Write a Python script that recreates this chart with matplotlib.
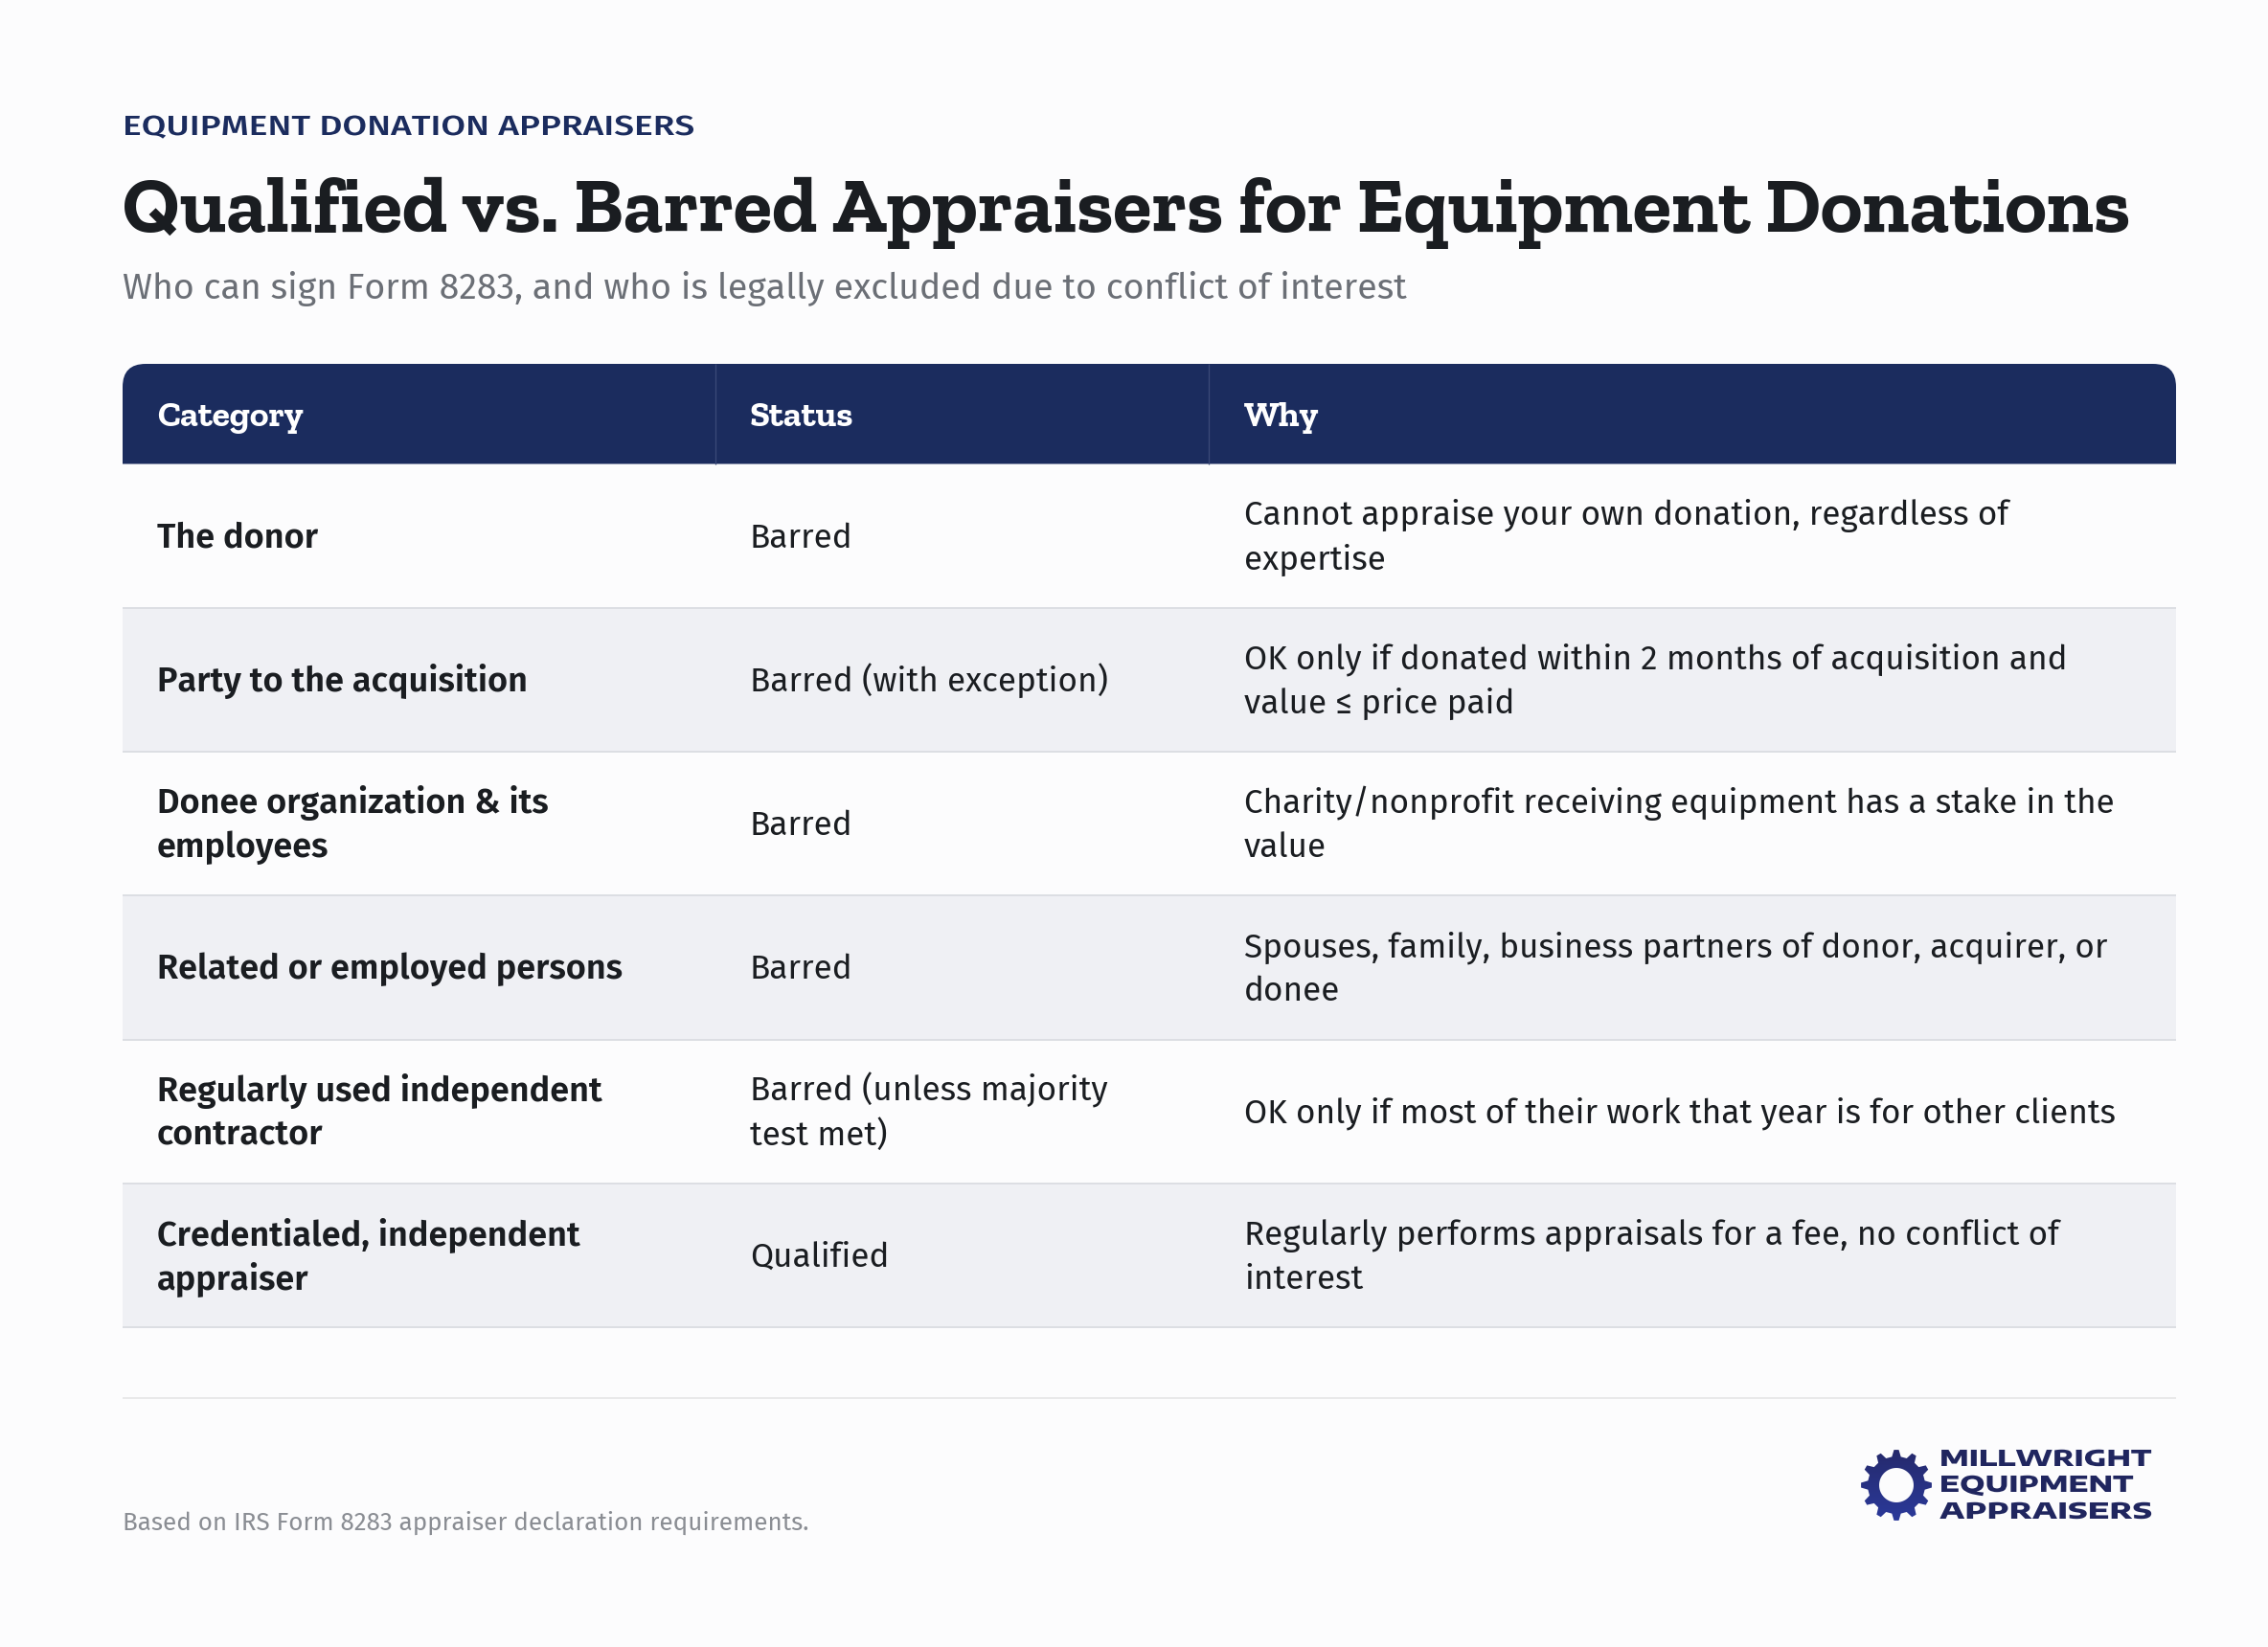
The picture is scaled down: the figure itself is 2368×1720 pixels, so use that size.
import numpy as np
import matplotlib
matplotlib.use("Agg")
import matplotlib.pyplot as plt
from matplotlib.path import Path
from matplotlib.patches import PathPatch, Rectangle
from matplotlib.patheffects import AbstractPathEffect
from matplotlib.transforms import Affine2D

W, H = 2368, 1720
BG = "#fcfcfd"; NAVY = "#1b2c5e"; INK = "#1a1d21"; ALT = "#eff0f4"; LINE = "#dcdee3"

eyebrow = "EQUIPMENT DONATION APPRAISERS"
title = "Qualified vs. Barred Appraisers for Equipment Donations"
subtitle = "Who can sign Form 8283, and who is legally excluded due to conflict of interest"
headers = ["Category", "Status", "Why"]
categories = [["The donor"], ["Party to the acquisition"], ["Donee organization & its", "employees"],
              ["Related or employed persons"], ["Regularly used independent", "contractor"],
              ["Credentialed, independent", "appraiser"]]
statuses = [["Barred"], ["Barred (with exception)"], ["Barred"], ["Barred"],
            ["Barred (unless majority", "test met)"], ["Qualified"]]
whys = [["Cannot appraise your own donation, regardless of", "expertise"],
        ["OK only if donated within 2 months of acquisition and", "value ≤ price paid"],
        ["Charity/nonprofit receiving equipment has a stake in the", "value"],
        ["Spouses, family, business partners of donor, acquirer, or", "donee"],
        ["OK only if most of their work that year is for other clients"],
        ["Regularly performs appraisals for a fee, no conflict of", "interest"]]
footnote = "Based on IRS Form 8283 appraiser declaration requirements."
logo_lines = ["MILLWRIGHT", "EQUIPMENT", "APPRAISERS"]

fig = plt.figure(figsize=(W / 100, H / 100), dpi=100, facecolor=BG)
ax = fig.add_axes([0, 0, 1, 1])
ax.set_xlim(0, W); ax.set_ylim(H, 0); ax.axis("off")
renderer = fig.canvas.get_renderer()

SANS = ["Fira Sans", "DejaVu Sans"]
SLAB = ["Zilla Slab", "DejaVu Serif"]


class XStretch(AbstractPathEffect):
    """Widen a text about its left edge, keeping it a text."""
    def __init__(self, sx, x0):
        super().__init__()
        self.sx, self.x0 = sx, x0

    def draw_path(self, renderer, gc, tpath, affine, rgbFace=None):
        a = affine + Affine2D().translate(-self.x0, 0).scale(self.sx, 1).translate(self.x0, 0)
        renderer.draw_path(gc, tpath, a, rgbFace)


def width(s, size, **kw):
    t = ax.text(0, 0, s, fontsize=size, **kw)
    w = t.get_window_extent(renderer).width
    t.remove()
    return w

def fit(s, target, **kw):
    return 20 * target / width(s, 20, **kw)

def put(x, y, s, **kw):
    return ax.text(x, y, s, ha="left", va="baseline", **kw)

def put_stretched(x, y, s, size_px, target, **kw):
    size = size_px * 0.72
    sx = target / width(s, size, **kw)
    t = put(x, y, s, fontsize=size, **kw)
    t.set_path_effects([XStretch(sx, x)])
    return t

# heading
kw = dict(family=SANS, weight=500)
put_stretched(128, 141, eyebrow, 29, 597, color=NAVY, **kw)
kw = dict(family=SLAB, weight=700)
put(128, 242, title, color=INK, fontsize=fit(title, 2094, **kw), **kw)
kw = dict(family=SANS, weight=400)
put(128, 312, subtitle, color="#6b6f76", fontsize=fit(subtitle, 1344, **kw), **kw)

# table geometry
X0, X1 = 128, 2272
col_x = [128, 747, 1262, 2272]
text_x = [164, 783, 1299]
head_top, head_bot = 380, 484.5
row_edges = [484.5, 634.5, 785, 935, 1085.5, 1236, 1386]

r = 24
hp = Path([(X0, head_bot), (X0, head_top + r), (X0, head_top), (X0 + r, head_top),
           (X1 - r, head_top), (X1, head_top), (X1, head_top + r), (X1, head_bot), (X0, head_bot)],
          [Path.MOVETO, Path.LINETO, Path.CURVE3, Path.CURVE3, Path.LINETO, Path.CURVE3, Path.CURVE3,
           Path.LINETO, Path.CLOSEPOLY])
ax.add_patch(PathPatch(hp, fc=NAVY, ec="none"))
for x in col_x[1:3]:
    ax.plot([x, x], [head_top, head_bot], color="#3b4a78", lw=0.9, solid_capstyle="butt")

kw = dict(family=SLAB, weight=700)
hsize = fit("Category", 153, **kw)
for x, s in zip(text_x, headers):
    put(x, 445, s, color="white", fontsize=hsize, **kw)

body_kw = dict(family=SANS, weight=400)
bold_kw = dict(family=SANS, weight=600)
bsize = fit(whys[0][0], 797, **body_kw)
bbsize = fit(categories[3][0], 487, **bold_kw)

for i in range(len(categories)):
    top, bot = row_edges[i], row_edges[i + 1]
    if i % 2 == 1:
        ax.add_patch(Rectangle((X0, top), X1 - X0, bot - top, fc=ALT, ec="none"))
    ax.plot([X0, X1], [bot, bot], color=LINE, lw=1.44, solid_capstyle="butt")
    c = (top + bot) / 2
    for x, lines, k, sz in ((text_x[0], categories[i], bold_kw, bbsize),
                            (text_x[1], statuses[i], body_kw, bsize),
                            (text_x[2], whys[i], body_kw, bsize)):
        ys = [c + 12] if len(lines) == 1 else [c - 11, c + 35]
        for y, s in zip(ys, lines):
            put(x, y, s, color=INK, fontsize=sz, **k)

# footer
ax.plot([X0, X1], [1460, 1460], color="#e9e9ea", lw=1.44, solid_capstyle="butt")
kw = dict(family=SANS, weight=400)
put(128, 1598, footnote, color="#8a8d93", fontsize=fit(footnote, 716, **kw), **kw)

# logo: gear with vertical gradient
cx, cy = 1980, 1551
teeth = 12
ang, rad = [], []
for k in range(teeth):
    a = 2 * np.pi * k / teeth
    st = 2 * np.pi / teeth
    for da, rr in ((-0.30, 30), (-0.13, 37), (0.13, 37), (0.30, 30)):
        ang.append(a + da * st); rad.append(rr)
ang = np.array(ang); rad = np.array(rad)
outer = np.c_[cx + rad * np.sin(ang), cy - rad * np.cos(ang)]
th = np.linspace(0, -2 * np.pi, 64)
inner = np.c_[cx + 18 * np.cos(th), cy + 18 * np.sin(th)]
verts = np.r_[outer, outer[:1], inner, inner[:1]]
codes = [Path.MOVETO] + [Path.LINETO] * (len(outer) - 1) + [Path.CLOSEPOLY] + \
        [Path.MOVETO] + [Path.LINETO] * (len(inner) - 1) + [Path.CLOSEPOLY]
gear = PathPatch(Path(verts, codes), fc="none", ec="none", transform=ax.transData)
ax.add_patch(gear)
grad = np.linspace(0, 1, 100)[:, None]
cmap = matplotlib.colors.LinearSegmentedColormap.from_list("g", ["#25296a", "#2b3a9c"])
im = ax.imshow(grad, extent=(cx - 40, cx + 40, cy + 40, cy - 40), cmap=cmap, aspect="auto", zorder=3)
im.set_clip_path(gear)
ax.set_xlim(0, W); ax.set_ylim(H, 0)

kw = dict(family=["Encode Sans Expanded", "DejaVu Sans"], weight=800)
for y, s, tw in zip((1531, 1558, 1586), logo_lines, (221, 202, 222)):
    put_stretched(2025, y, s, 23, tw, color="#20265f", **kw)

fig.savefig("out.png", dpi=100, facecolor=BG)
